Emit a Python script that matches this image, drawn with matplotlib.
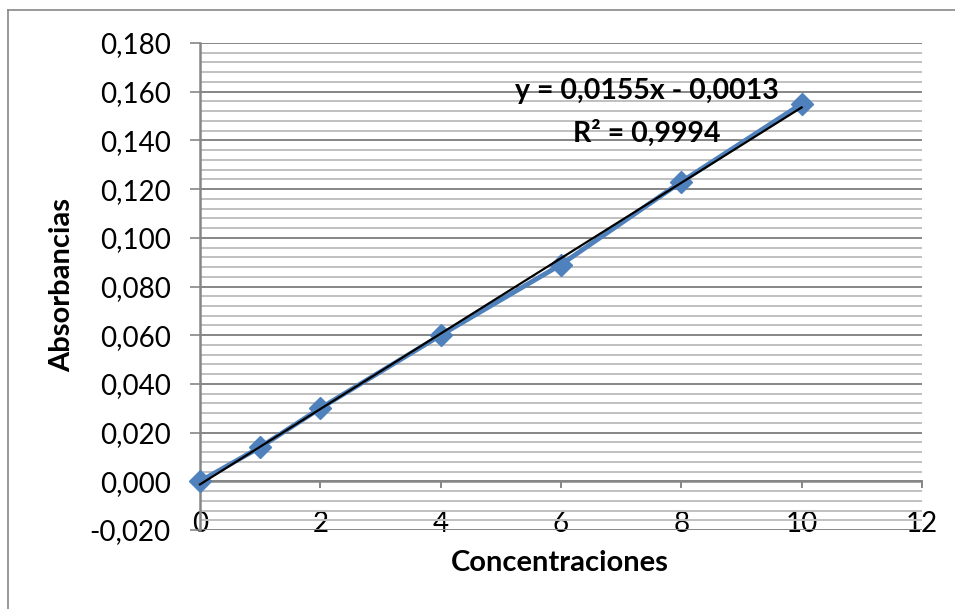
import matplotlib.pyplot as plt
import numpy as np
from matplotlib.lines import Line2D
from matplotlib.ticker import MultipleLocator, FuncFormatter

# Curva de calibración
concentraciones = [0, 1, 2, 4, 6, 8, 10]
absorbancias = [0.000, 0.014, 0.030, 0.060, 0.089, 0.123, 0.155]

plt.rcParams['font.family'] = ['Lato', 'DejaVu Sans']

fig = plt.figure(figsize=(9.55, 6.09), dpi=100)
ax = fig.add_axes([0.2094, 0.1297, 0.7560, 0.7997])

# Marco del gráfico (sólo borde superior e izquierdo visibles)
fig.add_artist(Line2D([8 / 955, 8 / 955], [0, 1 - 10 / 609], transform=fig.transFigure,
                      color='#888888', lw=1.2))
fig.add_artist(Line2D([8 / 955, 1], [1 - 10 / 609, 1 - 10 / 609], transform=fig.transFigure,
                      color='#888888', lw=1.2))

ax.set_xlim(0, 12)
ax.set_ylim(-0.020, 0.180)

# Cuadrícula principal y secundaria
ax.yaxis.set_major_locator(MultipleLocator(0.020))
ax.yaxis.set_minor_locator(MultipleLocator(0.004))
ax.grid(True, which='major', axis='y', color='#868686', lw=1.4, zorder=0)
ax.grid(True, which='minor', axis='y', color='#c0c0c0', lw=1.4, zorder=0)
ax.tick_params(axis='y', which='minor', length=0)

for side in ['top', 'right', 'bottom']:
    ax.spines[side].set_visible(False)
ax.spines['left'].set_color('#868686')
ax.spines['left'].set_linewidth(1.8)

# Eje X cruzando en y = 0, con marcas hacia abajo
ax.axhline(0, color='#868686', lw=1.8, zorder=1)
ax.set_xticks(range(0, 13, 2))
for xt in range(0, 13, 2):
    ax.plot([xt, xt], [0, -0.0025], color='#868686', lw=1.4, zorder=1, clip_on=False)
ax.tick_params(axis='x', length=0, pad=-14, labelsize=20, colors='black')
ax.tick_params(axis='y', which='major', length=7, width=1.2, color='#868686',
               labelsize=20, pad=14)

fmt = FuncFormatter(lambda v, p: f"{v:.3f}".replace('.', ','))
ax.yaxis.set_major_formatter(fmt)

# Serie de datos
ax.plot(concentraciones, absorbancias, color='#4f81bd', lw=3.5, marker='D',
        markersize=11, zorder=3, clip_on=False)

# Línea de tendencia lineal
m, b = np.polyfit(concentraciones, absorbancias, 1)
ajuste = np.polyval([m, b], concentraciones)
r2 = 1 - np.sum((np.array(absorbancias) - ajuste) ** 2) / \
    np.sum((np.array(absorbancias) - np.mean(absorbancias)) ** 2)
xs = np.array([0, 10])
ax.plot(xs, m * xs + b, color='black', lw=1.6, zorder=4, clip_on=False)

signo = '-' if b < 0 else '+'
ec = f"y = {m:.4f}x {signo} {abs(b):.4f}".replace('.', ',')
ax.text(647 / 955, 1 - 91 / 609, ec, transform=fig.transFigure, ha='center', va='center',
        fontsize=20.5, fontweight='bold', zorder=5)
ax.text(647 / 955, 1 - 133 / 609, f"R² = {r2:.4f}".replace('.', ','),
        transform=fig.transFigure, ha='center', va='center',
        fontsize=20.5, fontweight='bold', zorder=5)

fig.text(560 / 955, 1 - 563 / 609, "Concentraciones", ha='center', va='center',
         fontsize=21, fontweight='bold')
fig.text(62 / 955, 1 - 285 / 609, "Absorbancias", ha='center', va='center',
         rotation=90, fontsize=21, fontweight='bold')

fig.savefig('out.png', dpi=100)
